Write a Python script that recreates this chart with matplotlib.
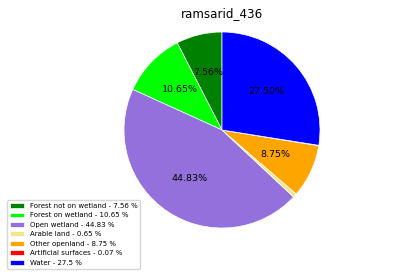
import matplotlib
matplotlib.use("Agg")
import matplotlib.pyplot as plt

# land cover shares for ramsar site 436
labels = ['Forest not on wetland', 'Forest on wetland', 'Open wetland',
          'Arable land', 'Other openland', 'Artificial surfaces', 'Water']
values = [7.56, 10.65, 44.83, 0.65, 8.75, 0.07, 27.5]
colors = ['green', 'lime', 'mediumpurple', 'khaki', 'orange', 'red', 'blue']
title = 'ramsarid_436'


def pct_label(p):
    # skip the tiny slices
    return '%1.2f%%' % p if p >= 1 else ''


fig = plt.figure(figsize=(3.95, 2.76), dpi=100)
ax = fig.add_axes([0.2519, 0.0851, 0.6203, 0.8877])

wedges, texts, autotexts = ax.pie(values, colors=colors, startangle=90,
                                  autopct=pct_label,
                                  wedgeprops={'edgecolor': 'white', 'linewidth': 0.5},
                                  textprops={'fontsize': 6.8})
ax.set_xlim(-1.25, 1.25)
ax.set_ylim(-1.25, 1.25)
ax.set_aspect('equal')

fig.text(222 / 395, 1 - 17.5 / 276, title, ha='center', va='baseline', fontsize=8.6)

leg_labels = [l + ' - ' + str(v) + ' %' for l, v in zip(labels, values)]
fig.legend(wedges, leg_labels, loc='lower left', fontsize=5,
           bbox_to_anchor=(4 / 395, 1 - 272 / 276))

fig.savefig('out.png', dpi=100)
